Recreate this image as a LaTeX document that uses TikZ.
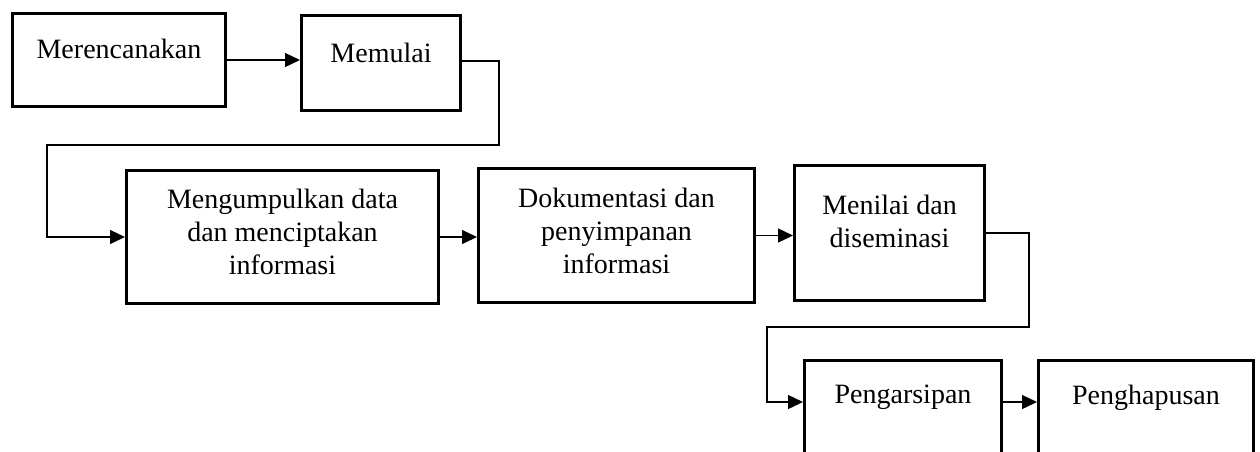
\documentclass[tikz,border=0pt]{standalone}
\usepackage{fontspec}
\setmainfont{Liberation Serif}
\usetikzlibrary{arrows.meta}

\tikzset{
  stepbox/.style={draw=black, line width=3pt, rectangle, inner sep=0pt},
  boxtext/.style={inner sep=0pt, align=center, anchor=north,
    font=\fontsize{28}{33}\selectfont},
  link/.style={draw=black, line width=1.3pt,
    -{Triangle[length=15pt,width=14pt]}}
}

\begin{document}
\begin{tikzpicture}[x=1pt, y=-1pt]
  \useasboundingbox (0,0) rectangle (1260,451);

  % process steps
  \node[stepbox, minimum width=213pt, minimum height=93pt,
        label={[boxtext, yshift=-26.5pt]north:Merencanakan}] (b1) at (119,60) {};
  \node[stepbox, minimum width=159pt, minimum height=95pt,
        label={[boxtext, yshift=-28.5pt]north:Memulai}] (b2) at (381,63) {};
  \node[stepbox, minimum width=312pt, minimum height=133pt,
        label={[boxtext, yshift=-19.5pt]north:{Mengumpulkan data\\dan menciptakan\\informasi}}] (b3) at (282.5,237) {};
  \node[stepbox, minimum width=276pt, minimum height=134pt,
        label={[boxtext, yshift=-21pt]north:{Dokumentasi dan\\penyimpanan\\informasi}}] (b4) at (616.5,235.5) {};
  \node[stepbox, minimum width=190pt, minimum height=135pt,
        label={[boxtext, yshift=-31pt]north:{Menilai dan\\diseminasi}}] (b5) at (889.5,233) {};
  \node[stepbox, minimum width=197pt, minimum height=109.5pt,
        label={[boxtext, yshift=-26pt]north:Pengarsipan}] (b6) at (903,415.25) {};
  \node[stepbox, minimum width=215pt, minimum height=109.5pt,
        label={[boxtext, yshift=-26pt]north:Penghapusan}] (b7) at (1146,415.25) {};

  % bend points of the return connectors
  \coordinate (c0) at (462,61);
  \coordinate (c1) at (499,145);
  \coordinate (c2) at (47,145);
  \coordinate (c3) at (1029,327);
  \coordinate (c4) at (767,327);
  \coordinate (c5) at (767,402);

  % connectors
  \draw[link] (b1.east) -- (b1.east -| b2.west);
  \draw[link] (b2.east |- c0) -- (c0 -| c1) -- (c1) -- (c2) -- (c2 |- b3.west) -- (b3.west);
  \draw[link] (b3.east) -- (b3.east -| b4.west);
  \draw[link] (b4.east) -- (b4.east -| b5.west);
  \draw[link] (b5.east) -- (b5.east -| c3) -- (c3) -- (c4) -- (c5) -- (c5 -| b6.west);
  \draw[link] (b6.east |- c5) -- (b7.west |- c5);
\end{tikzpicture}
\end{document}
